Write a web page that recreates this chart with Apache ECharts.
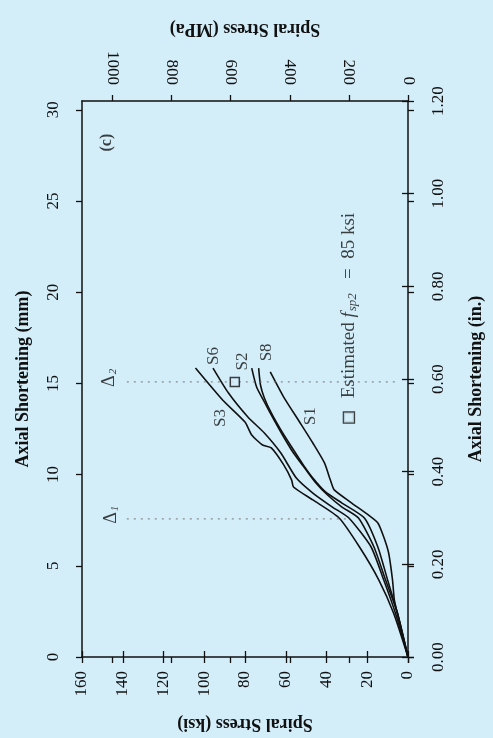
<!DOCTYPE html>
<html><head><meta charset="utf-8">
<script src="https://cdn.jsdelivr.net/npm/echarts@6/dist/echarts.min.js"></script>
<style>html,body{margin:0;padding:0;background:#d3edf9;}#c{width:493px;height:738px;}</style>
</head><body><div id="c"></div>
<script>
// Data: [spiral stress (ksi), axial shortening (mm)]
const S1 = [[0,0],[2.4,1.10],[4.8,2.19],[6.7,3.13],[7.6,4.22],[9.5,5.70],[11.9,6.58],[14.8,7.35],[19.5,7.79],[27.6,8.44],[36.2,9.16],[38.1,9.70],[41.0,10.64],[46.7,11.73],[52.9,12.83],[61.0,14.25],[67.6,15.63]];
const S2 = [[0,0],[5.2,2.41],[11.0,4.22],[16.7,6.03],[24.3,7.62],[32.4,8.22],[39.5,8.88],[45.2,9.54],[50.0,10.25],[56.2,11.18],[61.0,12.06],[65.7,12.99],[70.5,13.98],[74.3,14.80],[76.7,15.84]];
const S3 = [[0,0],[7.1,2.41],[14.3,4.22],[23.8,6.03],[33.8,7.62],[46.7,8.61],[56.2,9.32],[57.1,9.70],[61.0,10.53],[67.1,11.46],[71.4,11.62],[76.7,12.17],[80.0,12.88],[91.0,14.09],[104.3,15.84]];
const S6 = [[0,0],[6.2,2.41],[11.9,4.22],[18.1,6.03],[29.0,7.62],[37.1,8.22],[46.7,8.99],[54.8,9.81],[62.4,11.18],[70.5,12.28],[78.6,13.16],[88.1,14.47],[95.7,15.84]];
const S8 = [[0,0],[5.2,2.41],[10.0,4.22],[14.8,6.03],[21.4,7.62],[32.4,8.44],[40.5,9.05],[46.7,9.81],[51.4,10.53],[57.1,11.51],[62.4,12.45],[67.1,13.38],[70.5,14.20],[72.4,14.91],[73.3,15.84]];
const curves = {S1, S2, S3, S6, S8};
const curveLabels = [['S6',95.2,16.5],['S2',81.0,16.2],['S8',69.5,16.7],['S3',91.9,13.1],['S1',47.6,13.2]];
const estimated = [[85, 15.08]];
const delta1 = 7.57, delta2 = 15.08;
const ksiTicks = [0,20,40,60,80,100,120,140,160];
const mpaTicks = [0,200,400,600,800,1000];
const mmTicks = [0,5,10,15,20,25,30];
const inTicks = [0,0.2,0.4,0.6,0.8,1.0,1.2];
const KSI_MAX = 160, MPA_MAX = 160*6.89476, IN_MAX = 1.2, MM_MAX = 1.2*25.4;

const F = "'Liberation Serif', 'Times New Roman', serif";
const INK = '#111';
const bg = '#d3edf9';
function axisBase(o){
  return Object.assign({
    type:'value', splitLine:{show:false},
    axisLine:{show:true, onZero:false, lineStyle:{color:INK, width:1.5}},
    axisTick:{show:true, inside:false, length:6, lineStyle:{color:INK, width:1.3}},
    axisLabel:{show:true, rotate:90, color:INK, fontFamily:F, fontSize:17},
    nameLocation:'middle',
    nameTextStyle:{fontFamily:F, fontWeight:'bold', fontSize:18, color:INK}
  }, o);
}
function dup(o){
  return Object.assign({type:'value', splitLine:{show:false}, axisLine:{show:false},
    axisLabel:{show:false}, axisTick:{show:true, inside:true, length:6, lineStyle:{color:INK, width:1.3}}}, o);
}
const chart = echarts.init(document.getElementById('c'));
const series = [];
Object.keys(curves).forEach(k=>{
  series.push({type:'line', name:k, data:curves[k], showSymbol:false, smooth:0.2,
    lineStyle:{color:INK, width:1.6}, z:3, animation:false});
});
series.push({type:'line', data:[[138,delta1],[30,delta1]], showSymbol:false,
  lineStyle:{color:'#777', width:1, type:[2,5]}, animation:false});
series.push({type:'line', data:[[138,delta2],[5,delta2]], showSymbol:false,
  lineStyle:{color:'#777', width:1, type:[2,5]}, animation:false});
series.push({type:'scatter', data:estimated, symbol:'rect', symbolSize:[9,9],
  itemStyle:{color:bg, borderColor:INK, borderWidth:1.5}, z:5, animation:false});
const textPts = curveLabels.map(d=>({value:[d[1],d[2]], label:{formatter:d[0]}}));
textPts.push({value:[146.5,15.3], label:{formatter:'{d|Δ}{s|2}'}});
textPts.push({value:[145.5,7.8], label:{formatter:'{d|Δ}{s|1}'}});
textPts.push({value:[147.6,28.2], label:{formatter:'{b|(c)}'}});
textPts.push({value:[29,18.6], label:{formatter:'{box|}{t|   Estimated }{i|f}{s2|sp2}{t|   =  85 ksi}'}});
series.push({type:'scatter', data:textPts, symbolSize:0, animation:false, z:6,
  label:{show:true, position:'inside', rotate:90, color:INK, fontFamily:F, fontSize:17,
    rich:{
      d:{fontFamily:F, fontSize:18, color:INK},
      s:{fontFamily:F, fontSize:11, fontStyle:'italic', color:INK, verticalAlign:'bottom', padding:[8,0,0,1]},
      s2:{fontFamily:F, fontSize:13, fontStyle:'italic', color:INK, verticalAlign:'bottom', padding:[8,0,0,1]},
      t:{fontFamily:F, fontSize:19, color:INK},
      i:{fontFamily:F, fontSize:19, fontStyle:'italic', color:INK},
      b:{fontFamily:F, fontSize:16, fontWeight:'bold', color:INK},
      box:{width:10, height:10, borderColor:INK, borderWidth:1.2, backgroundColor:bg}
    }}});
chart.setOption({
  backgroundColor:bg,
  animation:false,
  grid:{left:82, right:75, top:101, bottom:81},
  xAxis:[
    axisBase({position:'bottom', min:0, max:KSI_MAX, interval:20, inverse:true,
      name:'Spiral Stress (ksi)', nameGap:58, nameRotate:180,
      axisLabel:{show:true, rotate:90, margin:14, color:INK, fontFamily:F, fontSize:17}}),
    axisBase({position:'top', min:0, max:MPA_MAX, interval:200, inverse:true,
      name:'Spiral Stress (MPa)', nameGap:63, nameRotate:180,
      axisTick:{show:true, length:6, customValues:mpaTicks, lineStyle:{color:INK, width:1.3}},
      axisLabel:{show:true, rotate:90, margin:16, color:INK, fontFamily:F, fontSize:17, customValues:mpaTicks,
        formatter:v=>String(Math.round(v))}}),
    dup({position:'bottom', min:0, max:KSI_MAX, interval:20, inverse:true}),
    dup({position:'top', min:0, max:MPA_MAX, interval:200, inverse:true,
      axisTick:{show:true, inside:true, length:6, customValues:mpaTicks, lineStyle:{color:INK, width:1.3}}})
  ],
  yAxis:[
    axisBase({position:'left', min:0, max:MM_MAX, interval:5,
      name:'Axial Shortening (mm)', nameGap:50, nameRotate:90,
      axisTick:{show:true, length:6, customValues:mmTicks, lineStyle:{color:INK, width:1.3}},
      axisLabel:{show:true, rotate:90, margin:20, color:INK, fontFamily:F, fontSize:17, customValues:mmTicks,
        formatter:v=>String(v)}}),
    axisBase({position:'right', min:0, max:IN_MAX, interval:0.2,
      name:'Axial Shortening (in.)', nameGap:59, nameRotate:90,
      axisLabel:{show:true, rotate:90, margin:22, color:INK, fontFamily:F, fontSize:17, formatter:v=>v.toFixed(2)}}),
    dup({position:'left', min:0, max:MM_MAX, interval:5,
      axisTick:{show:true, inside:true, length:6, customValues:mmTicks, lineStyle:{color:INK, width:1.3}}}),
    dup({position:'right', min:0, max:IN_MAX, interval:0.2})
  ],
  series: series
});
</script></body></html>
